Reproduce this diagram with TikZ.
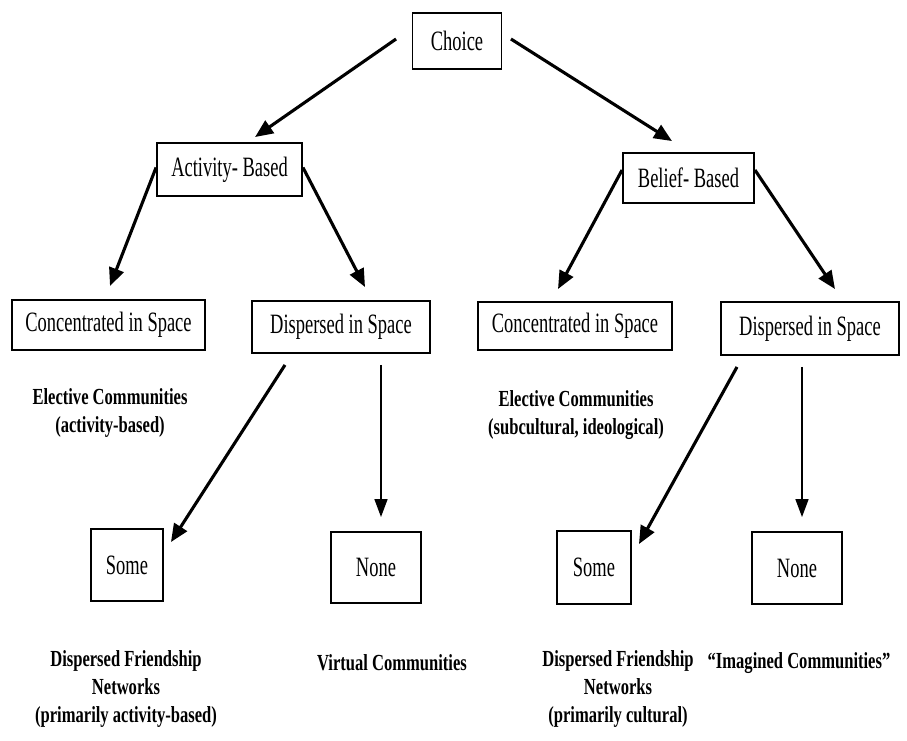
\documentclass[tikz,border=0pt]{standalone}
\usepackage{fontspec}
\setmainfont{Liberation Serif}
\newfontfamily\boxfont{Liberation Serif}[FakeStretch=0.66]
\newfontfamily\labfont{Liberation Serif}[FakeStretch=0.72]
\usetikzlibrary{arrows.meta, calc, positioning}

\begin{document}
\begin{tikzpicture}[x=1pt, y=-1pt,
  box/.style={draw, line width=1.9pt, inner sep=0pt, align=center, font=\boxfont\fontsize{28}{30}\selectfont},
  lab/.style={align=center, font=\labfont\bfseries\fontsize{23}{28}\selectfont},
  bigarr/.style={-{Triangle[length=18pt,width=15pt]}, line width=3.1pt},
  downarr/.style={-{Triangle[length=18pt,width=13pt]}, line width=1.6pt}]
\useasboundingbox (0,0) rectangle (907,741);

% Top level
\node[box, minimum width=89, minimum height=56] (choice) at (457,41) {Choice};

% Second level
\node[box, minimum width=145, minimum height=53] (act) at (229.5,169.5) {Activity- Based};
\node[box, minimum width=131, minimum height=50] (bel) at (688.5,178) {Belief- Based};

% Third level
\node[box, minimum width=193, minimum height=50] (conA) at (108.5,325) {Concentrated in Space};
\node[box, minimum width=178, minimum height=52] (disA) at (341,327) {Dispersed in Space};
\node[box, minimum width=194, minimum height=48] (conB) at (575,326) {Concentrated in Space};
\node[box, minimum width=178, minimum height=53] (disB) at (810,328.5) {Dispersed in Space};

% Elective communities
\node[lab] (elA) at (110,413) {Elective Communities\\(activity-based)};
\node[lab] (elB) at (576,415) {Elective Communities\\(subcultural, ideological)};

% Bottom level
\node[box, minimum width=72, minimum height=72] (someA) at (127,565) {Some};
\node[box, minimum width=90, minimum height=71] (noneA) at (376,567.5) {None};
\node[box, minimum width=74, minimum height=73] (someB) at (594,567.5) {Some};
\node[box, minimum width=90, minimum height=72] (noneB) at (797,568) {None};

% Resulting forms
\node[lab] (dfA) at (126,689) {Dispersed Friendship\\Networks\\(primarily activity-based)};
\node[lab] (virt) at (392,663) {Virtual Communities};
\node[lab] (dfB) at (618,689) {Dispersed Friendship\\Networks\\(primarily cultural)};
\node[lab] (imag) at (799,663) {“Imagined Communities”};

% Arrows
\draw[bigarr] ([xshift=-15.5pt,yshift=2pt]choice.west) -- ([xshift=25.5pt,yshift=5pt]act.north);
\draw[bigarr] ([xshift=8.5pt,yshift=2pt]choice.east) -- ([xshift=-16.5pt,yshift=11pt]bel.north);
\draw[bigarr] ([yshift=2pt]act.west) -- ([xshift=1.5pt,yshift=13pt]conA.north);
\draw[bigarr] ([yshift=2pt]act.east) -- ([xshift=24pt,yshift=13pt]disA.north);
\draw[bigarr] ([yshift=8pt]bel.west) -- ([xshift=-17pt,yshift=12pt]conB.north);
\draw[bigarr] ([yshift=8pt]bel.east) -- ([xshift=25pt,yshift=12pt]disB.north);
\draw[bigarr] ([xshift=-56pt,yshift=-11pt]disA.south) -- ([xshift=7pt,yshift=-14pt]someA.north east);
\draw[downarr] ([xshift=40pt,yshift=-11pt]disA.south) -- ([xshift=5pt,yshift=14pt]noneA.north);
\draw[bigarr] ([xshift=-73pt,yshift=-11pt]disB.south) -- ([xshift=7pt,yshift=-14pt]someB.north east);
\draw[downarr] ([xshift=-8pt,yshift=-11pt]disB.south) -- ([xshift=5pt,yshift=14pt]noneB.north);
\end{tikzpicture}
\end{document}
